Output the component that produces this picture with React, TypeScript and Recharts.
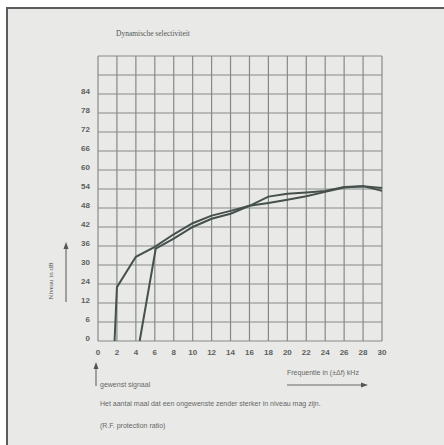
import { LineChart, Line, XAxis, YAxis, CartesianGrid } from 'recharts';

// frequency offset in kHz, level in dB (as printed on the scale)
const freqA = [1.75, 2, 4, 6, 8, 10, 12, 14, 16, 18, 20, 22, 24, 26, 28, 30];
const levelA = [0, 22, 32.6, 35.7, 39.7, 43.2, 45.6, 47.1, 48.7, 49.6, 50.6, 51.7, 53.1, 54.5, 54.9, 53.4];

const freqB = [4.4, 6.1, 8, 10, 12, 14, 16, 18, 20, 22, 24, 26, 28, 30];
const levelB = [0, 35.2, 38.3, 42, 44.6, 46.2, 48.7, 51.6, 52.5, 52.9, 53.4, 54.6, 54.9, 54.3];

const xTicks = [0, 2, 4, 6, 8, 10, 12, 14, 16, 18, 20, 22, 24, 26, 28, 30];
const xTickLabels = ['0', '2', '4', '6', '8', '10', '12', '14', '16', '18', '20', '22', '24', '26', '28', '30'];
// printed y labels, one per grid line from the bottom (the top two lines have none)
const yTickLabels = ['0', '6', '12', '24', '30', '36', '42', '48', '54', '60', '66', '72', '78', '84', '', ''];

// the printed scale is not linear below 24 dB, so map dB onto grid rows
const toGrid = (db: number) => {
  if (db <= 12) return db / 6;
  if (db <= 24) return 2 + (db - 12) / 12;
  return (db - 6) / 6;
};

const seriesA = freqA.map((x, i) => ({ x, y: toGrid(levelA[i]) }));
const seriesB = freqB.map((x, i) => ({ x, y: toGrid(levelB[i]) }));

const ink = '#46504c';
const grey = '#5c605e';

export default function App() {
  return (
    <div style={{ position: 'absolute', left: 0, top: 0, width: 444, height: 445, background: '#ffffff', overflow: 'hidden' }}>
      <div
        style={{
          position: 'absolute',
          left: 6,
          top: 7,
          width: 440,
          height: 440,
          background: '#e9eae8',
          borderLeft: '2px solid #5a5d5b',
          borderTop: '2px solid #5a5d5b',
        }}
      />
      <div style={{ position: 'absolute', left: 0, top: 0 }}>
        <LineChart width={444} height={445} margin={{ top: 56, right: 62, bottom: 74, left: 58 }}>
          <CartesianGrid stroke="#858a88" strokeWidth={1.2} />
          <XAxis
            type="number"
            dataKey="x"
            domain={[0, 30]}
            ticks={xTicks}
            tickFormatter={(v: number) => xTickLabels[xTicks.indexOf(v)] ?? ''}
            axisLine={false}
            tickLine={false}
            height={30}
            tick={{ fontSize: 8, fill: grey, fontFamily: 'Liberation Sans, Arial, sans-serif', fontWeight: 'bold' }}
            interval={0}
          />
          <YAxis
            type="number"
            domain={[0, 15]}
            ticks={[0, 1, 2, 3, 4, 5, 6, 7, 8, 9, 10, 11, 12, 13, 14, 15]}
            tickFormatter={(v: number) => yTickLabels[v] ?? ''}
            axisLine={false}
            tickLine={false}
            width={40}
            interval={0}
            tick={{ fontSize: 8, fill: grey, fontFamily: 'Liberation Sans, Arial, sans-serif', fontWeight: 'bold', dy: -3 }}
          />
          <Line data={seriesA} dataKey="y" type="linear" stroke={ink} strokeWidth={2} dot={false} isAnimationActive={false} />
          <Line data={seriesB} dataKey="y" type="linear" stroke={ink} strokeWidth={2} dot={false} isAnimationActive={false} />
        </LineChart>
      </div>
      <svg width={444} height={445} style={{ position: 'absolute', left: 0, top: 0, pointerEvents: 'none' }}>
        <text x={116} y={36} fontSize={7.5} fill="#555" fontFamily="Liberation Serif, serif">
          Dynamische selectiviteit
        </text>
        <text
          x={53}
          y={281}
          fontSize={7}
          fill="#555"
          fontFamily="Liberation Serif, serif"
          textAnchor="middle"
          transform="rotate(-90 53 281)"
        >
          Niveau in dB
        </text>
        <line x1={66} y1={302} x2={66} y2={247} stroke="#555" strokeWidth={1} />
        <polygon points="66,242 63.5,249 68.5,249" fill="#555" />
        <line x1={96} y1={386} x2={96} y2={367} stroke="#555" strokeWidth={1} />
        <polygon points="96,362 93.5,369 98.5,369" fill="#555" />
        <text x={100} y={387} fontSize={7} fill="#666" fontFamily="Liberation Sans, Arial, sans-serif">
          gewenst signaal
        </text>
        <text x={287} y={375} fontSize={7} fill="#666" fontFamily="Liberation Sans, Arial, sans-serif">
          Frequentie in (±Δf) kHz
        </text>
        <line x1={287} y1={385} x2={364} y2={385} stroke="#666" strokeWidth={1} />
        <polygon points="368,385 361,382.5 361,387.5" fill="#555" />
        <text x={100} y={406} fontSize={7} fill="#666" fontFamily="Liberation Sans, Arial, sans-serif">
          Het aantal maal dat een ongewenste zender sterker in niveau mag zijn.
        </text>
        <text x={100} y={428} fontSize={7} fill="#666" fontFamily="Liberation Sans, Arial, sans-serif">
          (R.F. protection ratio)
        </text>
      </svg>
    </div>
  );
}
